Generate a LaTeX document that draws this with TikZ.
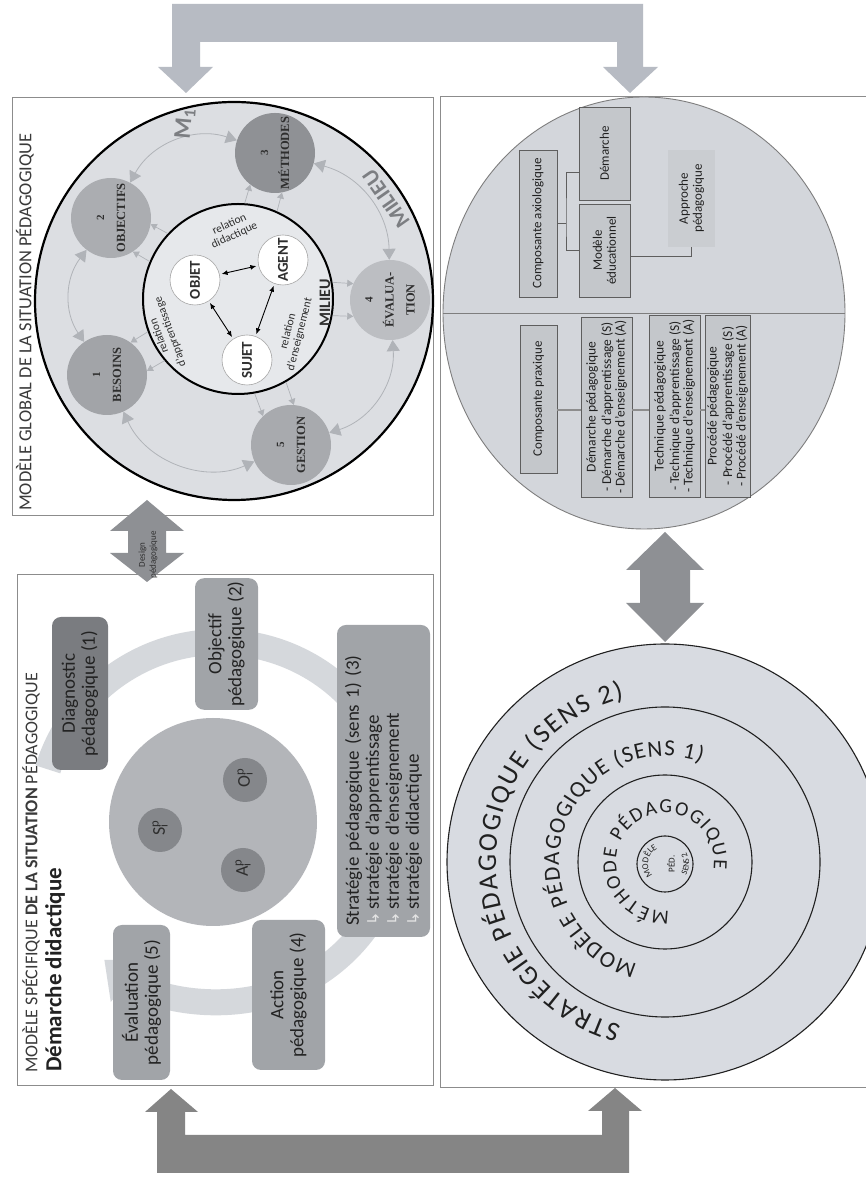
\documentclass[tikz,border=0pt]{standalone}
\usepackage{fontspec}
\usepackage{graphicx}
\setmainfont{Carlito}
\newfontfamily\serifnum{Liberation Serif}
\newfontfamily\symfont{DejaVu Sans}
\usetikzlibrary{arrows.meta,calc,decorations.text,shapes.geometric}
\newcommand{\fsz}[2]{\fontsize{#1}{#2}\selectfont}

\definecolor{panelline}{HTML}{8C8C8C}
\definecolor{hdrgray}{HTML}{3A3A3A}
\definecolor{toparrow}{HTML}{B7BBC3}
\definecolor{botarrow}{HTML}{858585}
\definecolor{midarrow}{HTML}{8E9094}
\definecolor{globfill}{HTML}{DCDEE2}
\definecolor{milfill}{HTML}{E6E8EB}
\definecolor{ringgray}{HTML}{B0B3B8}
\definecolor{labgray}{HTML}{7C7E82}
\definecolor{nA}{HTML}{A2A4A8}
\definecolor{nB}{HTML}{ABADB1}
\definecolor{nC}{HTML}{8F9195}
\definecolor{nD}{HTML}{BCBEC2}
\definecolor{nE}{HTML}{A8AAAE}
\definecolor{numtext}{HTML}{2E2E2E}
\definecolor{compfill}{HTML}{D3D6DB}
\definecolor{compboxfill}{HTML}{C4C7CB}
\definecolor{apfill}{HTML}{CACDD1}
\definecolor{compline}{HTML}{5E5E5E}
\definecolor{praxline}{HTML}{8D8D8D}
\definecolor{concfill}{HTML}{D8DBE1}
\definecolor{ctext}{HTML}{202020}
\definecolor{specfill}{HTML}{B3B5B9}
\definecolor{soafill}{HTML}{85878B}
\definecolor{cyclering}{HTML}{D5D8DC}
\definecolor{boxgray}{HTML}{A1A4A8}
\definecolor{diaggray}{HTML}{7A7C80}
\definecolor{boxtext}{HTML}{222222}
\definecolor{bulletc}{HTML}{E4E4E4}

\begin{document}
\begin{tikzpicture}[x=1pt,y=1pt,
  panel/.style={draw=panelline, line width=0.9pt},
  hdr/.style={rotate=90, anchor=west, inner sep=0pt, text=hdrgray},
  numc/.style={circle, minimum size=80pt, inner sep=0pt},
  numlab/.style={rotate=90, align=center, inner sep=0pt, text=numtext, font=\serifnum\bfseries\fsz{12.5}{21}},
  soa/.style={circle, rotate=90, minimum size=50pt, inner sep=0pt, fill=white, draw=gray!70, line width=0.6pt, text=numtext, font=\bfseries\fsz{15}{16}},
  reltext/.style={font=\fsz{11.5}{12}, text=numtext, align=center, inner sep=0pt},
  ringarr/.style={draw=ringgray, line width=0.8pt, {Triangle[width=13pt,length=11pt]}-{Triangle[width=13pt,length=11pt]}},
  smallarr/.style={draw=ringgray, line width=0.7pt, -{Triangle[width=7pt,length=6pt]}},
  blkarr/.style={draw=black, line width=0.9pt, {Latex[length=6pt,width=5pt]}-{Latex[length=6pt,width=5pt]}, shorten <=2pt, shorten >=2pt},
  compbox/.style={rotate=90, draw=compline, line width=0.8pt, fill=compboxfill, text=ctext, align=center, inner sep=2pt, font=\fsz{13}{14}},
  listbox/.style={compbox, inner sep=1pt, font=\fsz{13.5}{13.5}},
  conn/.style={draw=compline, line width=1pt},
  specbox/.style={rotate=90, rounded corners=9pt, fill=boxgray, text=boxtext, align=center, inner sep=3pt, font=\fsz{19}{20}},
  soac/.style={circle, rotate=90, minimum size=44pt, inner sep=0pt, fill=soafill, text=numtext, font=\fsz{18}{18}},
  conc/.style={circle, inner sep=0pt, fill=concfill, draw=ctext, line width=1.1pt}
]
\begin{scope}[yshift=1178pt]
\useasboundingbox (0,0) rectangle (866,-1178);
\fill[white] (0,0) rectangle (866,-1178);

% ---------- bracket arrows linking the two columns ----------
\fill[toparrow] (172,-4) -- (643,-4) -- (643,-67) -- (658,-67) -- (630,-93) -- (603,-67)
  -- (617,-67) -- (617,-42) -- (200,-42) -- (200,-67) -- (213,-67) -- (186,-93)
  -- (158,-67) -- (172,-67) -- cycle;
\fill[botarrow] (157,-1173) -- (629,-1173) -- (629,-1111) -- (642,-1111) -- (615,-1088)
  -- (588,-1111) -- (602,-1111) -- (602,-1135) -- (185,-1135) -- (185,-1112)
  -- (198,-1112) -- (171,-1089) -- (145,-1112) -- (157,-1112) -- cycle;

% ---------- panels ----------
\draw[panel] (12,-97) rectangle (433,-515);
\draw[panel] (17,-574) rectangle (433,-1085);
\draw[panel] (440,-96) rectangle (880,-1087);

% ================= global model =================
\node[hdr, font=\fsz{18.4}{20}] (ghdr) at (25,-511) {MODÈLE GLOBAL DE LA SITUATION PÉDAGOGIQUE};

\node[circle, minimum size=398pt, inner sep=0pt, fill=globfill, draw=black, line width=2.2pt] (gc) at (234,-301) {};

\node[numc, fill=nA] (n1) at (107,-375) {};
\node[numc, fill=nB] (n2) at (111,-218) {};
\node[numc, fill=nC] (n3) at (275,-153) {};
\node[numc, fill=nD] (n4) at (390,-300) {};
\node[numc, fill=nE] (n5) at (291,-445) {};

% cycle of the milieu around the ring
\draw[ringarr] (n2) to[bend left=40] (n3);
\draw[ringarr] (n3) to[bend left=37] (n4);
\draw[ringarr] (n4) to[bend left=38] (n5);
\draw[ringarr] (n5) to[bend left=45] (n1);
\draw[ringarr] (n1) to[bend left=36] (n2);

\node[circle, minimum size=190pt, inner sep=0pt, fill=milfill, draw=black, line width=2pt] (mil) at (238,-299) {};

% links from the inner milieu to each component
\draw[smallarr] (mil.220) -- (n1.6);
\draw[smallarr] (mil.200) -- (n1.54);
\draw[smallarr] (mil.157.5) -- (n2.303.5);
\draw[smallarr] (mil.137.5) -- (n2.351.5);
\draw[smallarr] (mil.86) -- (n3.232);
\draw[smallarr] (mil.66) -- (n3.280);
\draw[smallarr] (mil.10) -- (n4.156);
\draw[smallarr] (mil.-10) -- (n4.204);
\draw[smallarr] (mil.300) -- (n5.86);
\draw[smallarr] (mil.280) -- (n5.134);

\node[numlab] (n1l) at (n1) {{\fsz{11}{21}1}\\BESOINS};
\node[numlab] (n2l) at (n2) {{\fsz{11}{21}2}\\OBJECTIFS};
\node[numlab] (n3l) at (n3) {{\fsz{11}{21}3}\\MÉTHODES};
\node[numlab] (n4l) at (n4) {{\fsz{11}{21}4}\\ÉVALUA-\\TION};
\node[numlab] (n5l) at (n5) {{\fsz{11}{21}5}\\GESTION};

\node[soa] (obj) at (195,-280) {OBJET};
\node[soa] (agt) at (283,-260) {AGENT};
\node[soa] (suj) at (247,-360) {SUJET};
\draw[blkarr] (obj) -- (agt);
\draw[blkarr] (obj) -- (suj);
\draw[blkarr] (suj) -- (agt);

\node[reltext, rotate=25] (rdid) at (232,-230) {relation\\didactique};
\node[reltext, rotate=110] (rapp) at (165,-334) {relation\\d'apprentissage};
\node[reltext, rotate=76] (rens) at (294,-333) {relation\\d'enseignement};
\node[rotate=90, inner sep=0pt, font=\bfseries\fsz{16}{16}, text=numtext] (milin) at (325,-303) {MILIEU};
\node[rotate=85, inner sep=0pt, font=\bfseries\fsz{24}{24}, text=labgray] (mone) at (185,-124) {M\textsubscript{1}};
\node[rotate=125, inner sep=0pt, font=\bfseries\fsz{22}{22}, text=labgray] (milout) at (386,-199) {MILIEU};

% ---------- design link between the two left panels ----------
\fill[midarrow] (147,-500) -- (184,-531) -- (166,-531) -- (166,-553) -- (184,-553)
  -- (147,-582) -- (110,-553) -- (128,-553) -- (128,-531) -- (110,-531) -- cycle;
\node[rotate=90, align=center, inner sep=0pt, font=\fsz{9}{11}, text=numtext] (dlab) at (148,-555) {Design\\pédagogique};

% ================= specific model =================
\node[hdr, font=\fsz{18}{19}] (shdr) at (31,-1073) {MODÈLE SPÉCIFIQUE \textbf{DE LA SITUATION} PÉDAGOGIQUE};
\node[hdr, font=\bfseries\fsz{23}{24}, text=boxtext] (sdem) at (55,-1072) {Démarche didactique};

\node[circle, minimum size=208pt, inner sep=0pt, fill=specfill] (scirc) at (213,-822) {};
\coordinate (cyc) at (220,-822);
\draw[draw=cyclering, line width=26pt, -{Triangle[width=54pt,length=32pt]}]
  ($(cyc)+(163:180)$) arc[start angle=163, end angle=-130, radius=180];

\node[soac] (sS) at (160,-830) {S\rlap{\textsuperscript{p}}\textsubscript{i}};
\node[soac] (sO) at (245,-780) {O\rlap{\textsuperscript{p}}\textsubscript{i}};
\node[soac] (sA) at (243,-870) {A\rlap{\textsuperscript{p}}\textsubscript{i}};

\node[specbox, fill=diaggray, minimum width=153pt, minimum height=56pt] (diag) at (80,-693.5) {Diagnostic\\pédagogique (1)};
\node[specbox, minimum width=128pt, minimum height=63pt] (objp) at (226.5,-644) {Objectif\\pédagogique (2)};
\node[specbox, minimum width=312pt, minimum height=93pt, align=left, text width=290pt] (strat) at (383.5,-781)
  {Stratégie pédagogique (sens 1) (3)\\
   {\symfont\color{bulletc}\fsz{16}{20}↳}\,stratégie d'apprentissage\\
   {\symfont\color{bulletc}\fsz{16}{20}↳}\,stratégie d'enseignement\\
   {\symfont\color{bulletc}\fsz{16}{20}↳}\,stratégie didactique};
\node[specbox, minimum width=150pt, minimum height=73pt] (actp) at (288.5,-995) {Action\\pédagogique (4)};
\node[specbox, minimum width=155pt, minimum height=57pt] (evalp) at (141.5,-1002.5) {Évaluation\\pédagogique (5)};

% ================= components (right column, top) =================
\node[ellipse, minimum width=402pt, minimum height=432pt, inner sep=0pt, fill=compfill, draw=compline!80, line width=0.9pt] (comp) at (644,-313) {};
\draw[draw=compline!80, line width=0.9pt] (comp.west) -- (comp.east);

\node[compbox, minimum width=147pt, minimum height=38pt] (ax) at (538,-223.5) {Composante axiologique};
\node[compbox, minimum width=93pt, minimum height=51pt] (dm) at (604.5,-153.5) {Démarche};
\node[compbox, minimum width=93pt, minimum height=51pt] (me) at (604.5,-250.5) {Modèle\\éducationnel};
\node[compbox, draw=none, fill=apfill, minimum width=97pt, minimum height=47pt] (ap) at (691.5,-198.5) {Approche\\pédagogique};
\coordinate (axj) at (566,-223.5);
\draw[conn] (ax.south) -- (axj);
\draw[conn] ([yshift=-19pt]dm.north) -| (axj) |- (me.north);
\draw[conn] ([yshift=-6pt]me.south) -| (ap.west);

\node[compbox, minimum width=148pt, minimum height=37pt] (cp) at (538.5,-399) {Composante praxique};
\node[listbox, minimum width=180pt, minimum height=51pt] (dp) at (606.5,-407) {Démarche pédagogique\\[2pt]- Démarche d'apprentissage (S)\\- Démarche d'enseignement (A)};
\node[listbox, minimum width=182pt, minimum height=51pt] (tp) at (674.5,-406) {Technique pédagogique\\[2pt]- Technique d'apprentissage (S)\\- Technique d'enseignement (A)};
\node[listbox, minimum width=182pt, minimum height=45pt] (pp) at (727.5,-406) {Procédé pédagogique\\[2pt]- Procédé d'apprentissage (S)\\- Procédé d'enseignement (A)};
\draw[draw=praxline, line width=1.2pt] (cp.south |- 0,-410) -- (dp.north |- 0,-410);
\draw[draw=praxline, line width=1.2pt] (dp.south |- 0,-410) -- (tp.north |- 0,-410);
\draw[draw=praxline, line width=1.2pt] (tp.south |- 0,-410) -- (pp.north |- 0,-410);

% ---------- two-way link between the right-hand figures ----------
\fill[midarrow] (665,-532) -- (704,-570) -- (690,-570) -- (690,-603) -- (704,-603)
  -- (665,-642) -- (626,-603) -- (640,-603) -- (640,-570) -- (626,-570) -- cycle;

% ================= nested circles (right column, bottom) =================
\node[conc, minimum size=436pt] (cs1) at (665,-862) {};
\node[conc, minimum size=310pt] (cs2) at (665,-862) {};
\node[conc, minimum size=174pt] (cs3) at (665,-862) {};
\node[conc, minimum size=56pt] (cs4) at (665,-864) {};

\path[decorate, decoration={text along path, text align={fit to path},
  text={|\color{ctext}\fsz{27}{30}|STRATÉGIE PÉDAGOGIQUE (SENS 2)}}]
  ($(cs1.center)+(255:169)$) arc[start angle=255, end angle=104, radius=169];
\path[decorate, decoration={text along path, text align={fit to path},
  text={|\color{ctext}\fsz{23}{26}|MODÈLE PÉDAGOGIQUE (SENS 1)}}]
  ($(cs2.center)+(255:106)$) arc[start angle=255, end angle=70, radius=106];
\path[decorate, decoration={text along path, text align={fit to path},
  text={|\color{ctext}\fsz{20}{22}|MÉTHODE PÉDAGOGIQUE}}]
  ($(cs3.center)+(275:49)$) arc[start angle=275, end angle=-8, radius=49];
\path[decorate, decoration={text along path, text align=center,
  text={|\color{ctext}\fsz{9}{10}|MODÈLE}}]
  ($(cs4.center)+(245:17)$) arc[start angle=245, end angle=95, radius=17];
\path[decorate, decoration={text along path, text align=center,
  text={|\color{ctext}\fsz{8.5}{10}|SENS 2}}]
  ($(cs4.center)+(-55:24)$) arc[start angle=-55, end angle=55, radius=24];
\node[rotate=90, inner sep=0pt, font=\fsz{9}{10}, text=ctext] (pedc) at (671,-864) {PÉD.};

\end{scope}
\end{tikzpicture}
\end{document}
